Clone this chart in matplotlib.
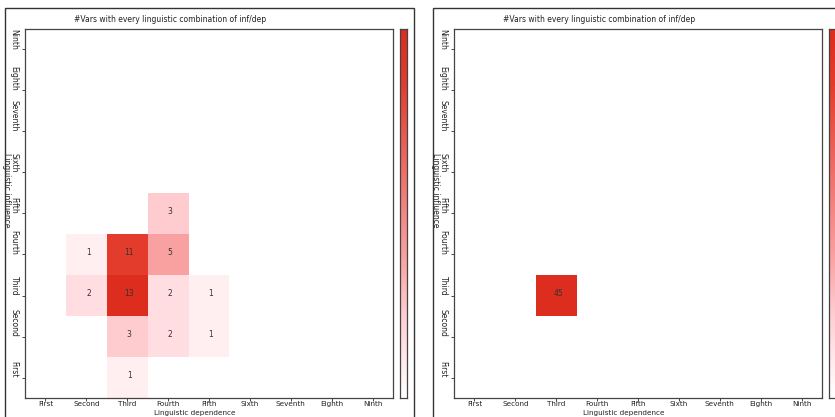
import numpy as np
import matplotlib
matplotlib.use("Agg")
import matplotlib.pyplot as plt
from matplotlib.colors import LinearSegmentedColormap
from matplotlib.patches import Rectangle

# ordinal labels, used on both axes
levels = ["First", "Second", "Third", "Fourth", "Fifth",
          "Sixth", "Seventh", "Eighth", "Ninth"]

# left panel: (dependence, influence, count)
left_dep = ["Fourth", "Second", "Third", "Fourth", "Second", "Third",
            "Fourth", "Fifth", "Third", "Fourth", "Fifth", "Third"]
left_inf = ["Fifth", "Fourth", "Fourth", "Fourth", "Third", "Third",
            "Third", "Third", "Second", "Second", "Second", "First"]
left_cnt = [3, 1, 11, 5, 2, 13, 2, 1, 3, 2, 1, 1]

# right panel
right_dep = ["Third"]
right_inf = ["Third"]
right_cnt = [45]

title = "#Vars with every linguistic combination of inf/dep"

W, H = 835, 417
fig = plt.figure(figsize=(W / 100, H / 100), dpi=100)
fig.patch.set_facecolor("white")
plt.rcParams["font.family"] = "DejaVu Sans"
fs = 5.5

cmap = LinearSegmentedColormap.from_list("wr", [
    (0.0, "#ffffff"),
    (0.08, "#ffeef0"),
    (0.23, "#ffccd0"),
    (0.385, "#f9a0a0"),
    (0.85, "#e33c2d"),
    (1.0, "#dc2d1e"),
])


def px(x0, y0, x1, y1):
    return [x0 / W, 1 - y1 / H, (x1 - x0) / W, (y1 - y0) / H]


def panel(x_off, dep, inf, cnt):
    n = len(levels)
    grid = np.zeros((n, n))
    for d, i, c in zip(dep, inf, cnt):
        grid[levels.index(i), levels.index(d)] = c
    vmax = max(cnt)

    ax = fig.add_axes(px(x_off + 25, 29, x_off + 393, 398))
    masked = np.ma.masked_equal(grid, 0)
    ax.imshow(masked, cmap=cmap, vmin=0, vmax=vmax, origin="lower",
              aspect="auto", extent=(-0.5, n - 0.5, -0.5, n - 0.5),
              interpolation="nearest")
    for d, i, c in zip(dep, inf, cnt):
        ax.text(levels.index(d) + 0.05, levels.index(i) + 0.05, str(c),
                ha="center", va="center", fontsize=fs, color="#333333")
    ax.set_xlim(-0.5, n - 0.5)
    ax.set_ylim(-0.5, n - 0.5)
    ax.set_xticks(range(n))
    ax.set_yticks(range(n))
    ax.set_xticklabels(levels, fontsize=5.2, color="#222222")
    ax.set_yticklabels(levels, fontsize=fs, color="#222222", rotation=270,
                       va="bottom", ha="center")
    ax.tick_params(axis="x", length=2, width=0.7, color="#444444", pad=0)
    ax.tick_params(axis="y", length=2, width=0.7, color="#444444", pad=5.8)
    for s in ax.spines.values():
        s.set_color("#444444")
        s.set_linewidth(0.9)
    ax.text(0.462, -0.041, "Linguistic dependence", transform=ax.transAxes,
            ha="center", va="center", fontsize=5.2, color="#222222")
    ax.text(-0.049, 0.564, "Linguistic influence", transform=ax.transAxes,
            ha="center", va="center", fontsize=fs, color="#222222",
            rotation=270)
    ax.text(0.395, 1.027, title, transform=ax.transAxes, ha="center",
            va="center", fontsize=fs, color="#222222")

    cax = fig.add_axes(px(x_off + 400, 29, x_off + 407, 398))
    grad = np.linspace(0, 1, 256).reshape(-1, 1)
    cax.imshow(grad, cmap=cmap, origin="lower", aspect="auto",
               extent=(0, 1, 0, 1))
    cax.set_xticks([])
    cax.set_yticks([])
    for s in cax.spines.values():
        s.set_color("#444444")
        s.set_linewidth(0.9)


panel(0, left_dep, left_inf, left_cnt)
panel(429, right_dep, right_inf, right_cnt)

# window frames around each panel
for x0, x1 in [(5, 414), (433, 900)]:
    fig.add_artist(Rectangle((x0 / W, -0.1), (x1 - x0) / W, 1.1 - 8 / H,
                             transform=fig.transFigure, fill=False,
                             edgecolor="#333333", linewidth=1.0))

fig.savefig("out.png", dpi=100)
